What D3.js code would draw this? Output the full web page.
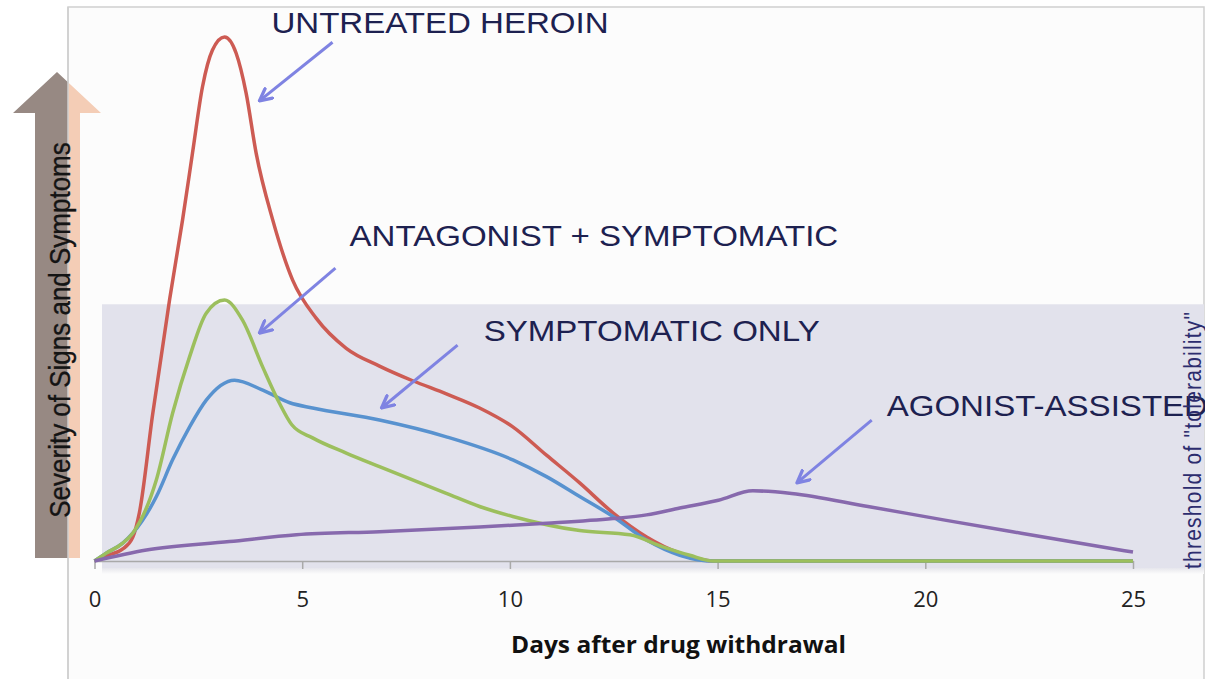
<!DOCTYPE html>
<html lang="en">
<head>
<meta charset="UTF-8">
<title>Severity of withdrawal signs and symptoms</title>
<script src="https://d3js.org/d3.v7.min.js"></script>
<style>
    body { margin: 0; background: #ffffff; }
    svg { display: block; }
</style>
</head>
<body>
<svg></svg>
<script>
    const width = 1205;
    const height = 679;

    // x axis
    const xTicks = [0, 5, 10, 15, 20, 25];

    // untreated heroin (red)
    const heroinDays = [0, 0.28, 0.68, 0.92, 1.08, 1.4, 1.81, 2.12, 2.36, 2.6, 2.84, 3.13, 3.41, 3.65, 3.89, 4.29, 4.77, 5.34, 6.06, 6.86, 7.66, 8.47, 9.27, 10.07, 10.88, 11.68, 12.48, 13.29, 14.09, 14.9, 20, 25];
    const heroinVals = [0, 1.0, 2.3, 4.5, 9.2, 28, 50, 65.1, 77.9, 90.5, 97.5, 100, 96.9, 89.3, 77.9, 65.1, 53.6, 46.3, 40.6, 37.2, 34.4, 31.9, 29.2, 25.6, 20.2, 14.9, 9.2, 4.6, 1.5, 0, 0, 0];

    // symptomatic only (blue)
    const sympDays = [0, 0.28, 0.68, 0.92, 1.49, 1.88, 2.29, 2.69, 3.37, 4.05, 4.7, 5.25, 6.86, 8.47, 10.07, 10.88, 11.68, 12.48, 13.29, 14.09, 14.9, 20, 25];
    const sympVals = [0, 1.5, 3.4, 5.3, 12.3, 19.3, 25.6, 30.7, 34.5, 32.6, 30.2, 29.2, 26.9, 23.7, 19.3, 16.1, 12.3, 8.5, 4.0, 1.1, 0, 0, 0];

    // antagonist + symptomatic (green)
    const antDays = [0, 0.28, 0.68, 0.92, 1.49, 1.88, 2.29, 2.69, 3.13, 3.56, 4.05, 4.46, 4.75, 5.25, 6.06, 6.86, 8.47, 9.27, 10.07, 11.68, 12.89, 13.68, 14.33, 14.9, 20, 25];
    const antVals = [0, 1.5, 3.4, 5.3, 15.5, 28.2, 39, 47.3, 49.8, 46, 37, 30, 26, 23.5, 20.6, 18, 12.9, 10.4, 8.5, 5.8, 5.0, 2.7, 1.1, 0, 0, 0];

    // agonist-assisted (purple)
    const agoDays = [0, 1.25, 3.25, 4.86, 6.86, 9.27, 10.88, 12.48, 13.29, 14.09, 15.02, 15.85, 16.78, 18.62, 20.47, 22.31, 25];
    const agoVals = [0, 2.1, 3.7, 5.0, 5.6, 6.5, 7.2, 8.1, 8.8, 10.1, 11.6, 13.4, 12.9, 10.4, 7.8, 5.3, 1.7];

    const thresholdValue = 49;

    // callouts: label position and arrow from/to, in (day, severity)
    const calloutNames = ["UNTREATED HEROIN", "ANTAGONIST + SYMPTOMATIC", "SYMPTOMATIC ONLY", "AGONIST-ASSISTED"];
    const calloutLabelAt = [[4.26, 100.8], [6.14, 60.1], [9.37, 42], [19.07, 27.6]];
    const calloutArrowFrom = [[5.73, 99], [5.8, 55.9], [8.74, 41.2], [18.71, 26.9]];
    const calloutArrowTo = [[3.97, 87.8], [3.97, 43.5], [6.91, 29.2], [16.91, 14.9]];

    const series = [
        { days: heroinDays, vals: heroinVals, color: "#cd5b53" },
        { days: sympDays, vals: sympVals, color: "#5892cf" },
        { days: antDays, vals: antVals, color: "#9cbf5d" },
        { days: agoDays, vals: agoVals, color: "#8769ad" }
    ];

    const xScale = d3.scaleLinear().domain([0, 25]).range([94.5, 1133]);
    const yScale = d3.scaleLinear().domain([0, 100]).range([561, 37]);

    const svg = d3.select("svg")
        .attr("width", width)
        .attr("height", height);

    const defs = svg.append("defs");
    defs.append("marker")
        .attr("id", "head")
        .attr("viewBox", "0 0 10 10")
        .attr("refX", 9)
        .attr("refY", 5)
        .attr("markerWidth", 5)
        .attr("markerHeight", 5)
        .attr("orient", "auto")
        .append("path")
        .attr("d", "M1,1 L9,5 L1,9")
        .attr("fill", "none")
        .attr("stroke", "#7f83e2")
        .attr("stroke-width", 2.2)
        .attr("stroke-linecap", "round")
        .attr("stroke-linejoin", "round");

    const shadow = defs.append("linearGradient")
        .attr("id", "bandShadow")
        .attr("x1", 0).attr("x2", 0).attr("y1", 0).attr("y2", 1);
    shadow.append("stop").attr("offset", "0%").attr("stop-color", "#e6e6ec");
    shadow.append("stop").attr("offset", "100%").attr("stop-color", "#fcfcfc");

    // chart frame
    svg.append("rect")
        .attr("x", 68).attr("y", 7)
        .attr("width", 1136).attr("height", 700)
        .attr("fill", "#fcfcfc")
        .attr("stroke", "#cfcfcf")
        .attr("stroke-width", 1.5);

    // tolerability band
    const bandLeft = xScale(0) + 7.5;
    svg.append("rect")
        .attr("x", bandLeft)
        .attr("y", yScale(thresholdValue))
        .attr("width", 1204 - bandLeft)
        .attr("height", 568 - yScale(thresholdValue))
        .attr("fill", "#e2e2ec");
    svg.append("rect")
        .attr("x", bandLeft)
        .attr("y", 568)
        .attr("width", 1204 - bandLeft)
        .attr("height", 6)
        .attr("fill", "url(#bandShadow)");

    // x axis
    const xAxis = svg.append("g")
        .attr("transform", `translate(0,${yScale(0)})`)
        .call(d3.axisBottom(xScale).tickValues(xTicks).tickSize(8).tickSizeOuter(0));
    xAxis.select(".domain").attr("stroke", "#a9a9a9").attr("stroke-width", 1.5);
    xAxis.selectAll(".tick line").attr("stroke", "#a9a9a9").attr("stroke-width", 1.5);
    xAxis.selectAll(".tick text")
        .attr("y", 46)
        .attr("dy", 0)
        .attr("fill", "#222")
        .style("font-family", "'Open Sans', sans-serif")
        .style("font-size", "22px");

    svg.append("text")
        .attr("x", 511)
        .attr("y", 653)
        .attr("textLength", 335)
        .attr("lengthAdjust", "spacingAndGlyphs")
        .attr("fill", "#111")
        .style("font-family", "'Open Sans', sans-serif")
        .style("font-weight", "bold")
        .style("font-size", "23px")
        .text("Days after drug withdrawal");

    // curves
    const line = d3.line()
        .x(d => xScale(d[0]))
        .y(d => yScale(d[1]))
        .curve(d3.curveMonotoneX);

    series.forEach(s => {
        svg.append("path")
            .datum(d3.zip(s.days, s.vals))
            .attr("fill", "none")
            .attr("stroke", s.color)
            .attr("stroke-width", 3.5)
            .attr("stroke-linejoin", "round")
            .attr("d", line);
    });

    // callout arrows and labels
    calloutNames.forEach((name, i) => {
        svg.append("line")
            .attr("x1", xScale(calloutArrowFrom[i][0]))
            .attr("y1", yScale(calloutArrowFrom[i][1]))
            .attr("x2", xScale(calloutArrowTo[i][0]))
            .attr("y2", yScale(calloutArrowTo[i][1]))
            .attr("stroke", "#7f83e2")
            .attr("stroke-width", 3)
            .attr("marker-end", "url(#head)");

        svg.append("text")
            .attr("transform", `translate(${xScale(calloutLabelAt[i][0])},${yScale(calloutLabelAt[i][1])}) scale(1.14,1)`)
            .attr("fill", "#1d2150")
            .style("font-family", "'Liberation Sans', Arial, sans-serif")
            .style("font-size", "29px")
            .text(name);
    });

    // threshold label
    svg.append("text")
        .attr("transform", `translate(1201,569) scale(1.12,1) rotate(-90)`)
        .attr("textLength", 257)
        .attr("lengthAdjust", "spacing")
        .attr("fill", "#2c2c6e")
        .style("font-family", "'Liberation Sans', Arial, sans-serif")
        .style("font-size", "21px")
        .text('threshold of "tolerability"');

    // severity arrow on the left
    const arrowPts = [[35, 558], [35, 113], [13, 113], [57, 72], [101, 113], [80, 113], [80, 558]];
    defs.append("clipPath").attr("id", "leftHalf")
        .append("rect").attr("x", 0).attr("y", 0).attr("width", 68).attr("height", height);
    defs.append("clipPath").attr("id", "rightHalf")
        .append("rect").attr("x", 68).attr("y", 0).attr("width", 100).attr("height", height);
    svg.append("polygon")
        .attr("points", arrowPts.join(" "))
        .attr("fill", "#978983")
        .attr("clip-path", "url(#leftHalf)");
    svg.append("polygon")
        .attr("points", arrowPts.join(" "))
        .attr("fill", "#f4cdb6")
        .attr("clip-path", "url(#rightHalf)");
    svg.append("line")
        .attr("x1", 68).attr("x2", 68)
        .attr("y1", 7).attr("y2", height)
        .attr("stroke", "#cfcfcf")
        .attr("stroke-width", 1.5);

    svg.append("text")
        .attr("transform", "translate(70,330) scale(1.14,1) rotate(-90)")
        .attr("text-anchor", "middle")
        .attr("fill", "#141414")
        .style("font-family", "'Liberation Sans', Arial, sans-serif")
        .style("font-size", "26px")
        .style("stroke", "#141414")
        .style("stroke-width", 0.3)
        .text("Severity of Signs and Symptoms");
</script>
</body>
</html>
